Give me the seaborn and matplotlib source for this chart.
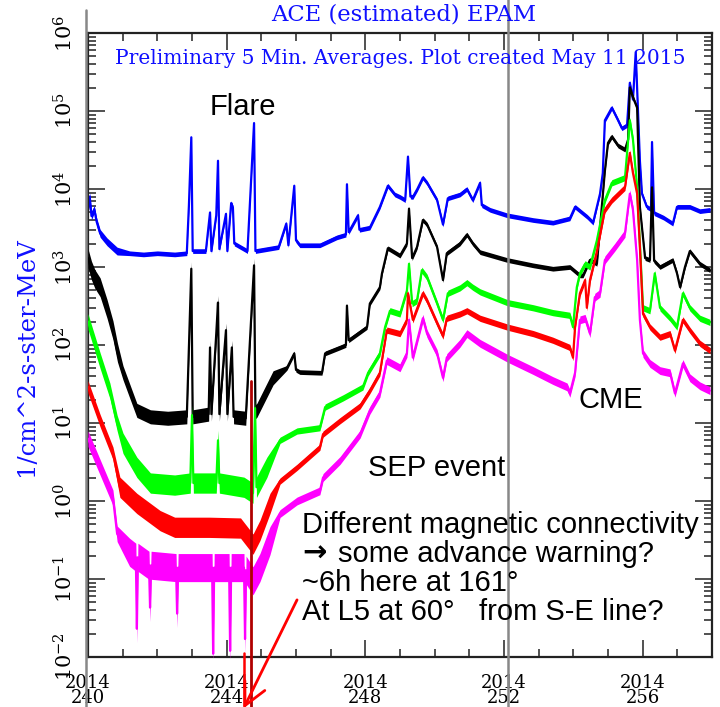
import numpy as np
import pandas as pd
import matplotlib
matplotlib.use("Agg")
import matplotlib.pyplot as plt
from matplotlib.ticker import LogLocator, MultipleLocator, NullFormatter
import seaborn as sns

# ---------------------------------------------------------------------------
# ACE EPAM 5-minute differential fluxes, day-of-year 2014 (1/cm^2-s-ster-MeV)
# ---------------------------------------------------------------------------
ch1_day = [240.00, 240.05, 240.10, 240.18, 240.25, 240.35, 240.55, 240.84,
           241.20, 241.60, 242.00, 242.50, 242.85, 242.91, 242.98, 243.02,
           243.40, 243.52, 243.56, 243.70, 243.75, 243.79, 243.98, 244.02,
           244.13, 244.18, 244.22, 244.60, 244.79, 244.83, 245.50, 245.72,
           245.78, 245.95, 246.00, 246.11, 246.69, 247.18, 247.44, 247.47,
           247.52, 247.79, 247.83, 248.13, 248.42, 248.65, 248.85, 249.00,
           249.15, 249.23, 249.30, 249.37, 249.50, 249.66, 249.78, 250.07,
           250.24, 250.38, 250.73, 250.93, 251.10, 251.31, 251.36, 251.60,
           252.09, 252.84, 253.41, 253.90, 254.05, 254.20, 254.40, 254.57,
           254.77, 254.85, 254.91, 255.11, 255.29, 255.40, 255.55, 255.63,
           255.72, 255.80, 255.92, 255.98, 256.12, 256.24, 256.27, 256.33,
           256.60, 256.87, 256.99, 257.36, 257.65, 257.94]
ch1_flux = [5.4e3, 8.0e3, 4.5e3, 5.5e3, 3.8e3, 2.7e3, 2.1e3, 1.6e3,
            1.5e3, 1.45e3, 1.5e3, 1.45e3, 1.5e3, 6.0e3, 4.6e4, 1.6e3,
            1.6e3, 5.0e3, 1.6e3, 4.6e3, 2.3e4, 1.7e3, 4.8e3, 1.6e3,
            6.6e3, 5.8e3, 2.0e3, 1.6e3, 7.0e4, 1.6e3, 1.8e3, 3.6e3,
            1.9e3, 1.1e4, 2.2e3, 1.9e3, 1.9e3, 2.4e3, 2.6e3, 1.15e4,
            2.8e3, 4.6e3, 3.0e3, 3.2e3, 5.9e3, 1.1e4, 8.5e3, 7.9e3,
            7.2e3, 2.6e4, 8.0e3, 7.9e3, 1.0e4, 1.4e4, 1.2e4, 7.2e3,
            3.5e3, 7.6e3, 8.5e3, 1.0e4, 7.2e3, 1.2e4, 6.2e3, 5.4e3,
            4.6e3, 4.0e3, 3.7e3, 4.2e3, 5.9e3, 5.2e3, 4.4e3, 3.7e3,
            8.7e3, 1.6e4, 7.6e4, 1.1e5, 7.6e4, 6.0e4, 6.6e4, 2.3e5,
            1.4e5, 5.7e5, 2.3e4, 8.7e3, 5.9e3, 5.5e3, 4.0e4, 4.9e3,
            4.3e3, 3.6e3, 5.9e3, 5.9e3, 5.2e3, 5.4e3]

ch2_day = [240.00, 240.10, 240.20, 240.35, 240.55, 240.72, 240.85, 241.01,
           241.41, 241.80, 242.30, 242.85, 242.98, 243.02, 243.48, 243.52,
           243.56, 243.70, 243.75, 243.79, 243.98, 244.02, 244.15, 244.20,
           244.55, 244.79, 244.83, 244.87, 245.34, 245.74, 245.95, 246.00,
           246.11, 246.75, 246.84, 247.27, 247.44, 247.47, 247.52, 248.05,
           248.13, 248.42, 248.48, 248.65, 249.00, 249.20, 249.26, 249.35,
           249.49, 249.66, 249.78, 250.07, 250.24, 250.35, 250.73, 250.93,
           251.10, 251.31, 252.09, 252.84, 253.41, 253.90, 254.19, 254.28,
           254.48, 254.68, 254.77, 254.91, 255.00, 255.11, 255.29, 255.49,
           255.58, 255.63, 255.72, 255.84, 255.92, 256.07, 256.21, 256.27,
           256.33, 256.50, 256.87, 256.99, 257.08, 257.22, 257.36, 257.65,
           257.94]
ch2_flux = [1.3e3, 9.0e2, 7.0e2, 5.5e2, 2.9e2, 1.55e2, 8.0e1, 4.4e1,
            1.45e1, 1.2e1, 1.15e1, 1.2e1, 9.5e2, 1.2e1, 1.3e1, 9.3e1,
            1.3e1, 1.4e2, 3.5e2, 1.3e1, 1.55e2, 1.3e1, 9.3e1, 1.2e1,
            1.15e1, 1.05e3, 1.4e1, 1.45e1, 3.8e1, 5.1e1, 7.8e1, 4.8e1,
            4.5e1, 4.4e1, 7.8e1, 9.3e1, 1.0e2, 3.2e2, 1.15e2, 1.7e2,
            3.4e2, 5.5e2, 8.3e2, 1.74e3, 1.4e3, 2.0e3, 5.6e3, 1.3e3,
            1.8e3, 4.0e3, 3.5e3, 1.8e3, 6.8e2, 1.5e3, 2.0e3, 2.6e3,
            2.0e3, 1.55e3, 1.23e3, 1.05e3, 9.5e2, 1.0e3, 7.8e2, 7.8e2,
            1.23e3, 1.1e3, 3.2e3, 1.7e4, 3.9e4, 4.7e4, 3.6e4, 3.2e4,
            4.3e4, 2.0e5, 1.5e5, 1.1e5, 5.9e3, 1.3e3, 1.23e3, 1.05e4,
            1.2e3, 1.0e3, 1.23e3, 8.3e2, 5.5e2, 1.0e3, 1.6e3, 1.1e3,
            9.1e2]

ch3_day = [240.00, 240.35, 240.63, 240.84, 241.01, 241.41, 241.80, 242.50,
           242.95, 243.00, 243.04, 243.70, 243.75, 243.79, 244.50, 244.76,
           244.82, 244.86, 245.16, 245.54, 246.03, 246.69, 246.84, 247.36,
           247.93, 248.08, 248.42, 248.57, 248.71, 249.00, 249.20, 249.26,
           249.35, 249.49, 249.63, 249.78, 250.07, 250.24, 250.38, 250.73,
           250.93, 251.10, 251.31, 252.09, 252.84, 253.41, 253.90, 253.99,
           254.10, 254.19, 254.34, 254.48, 254.68, 254.91, 255.11, 255.49,
           255.63, 255.72, 255.84, 255.92, 256.01, 256.21, 256.35, 256.50,
           256.79, 256.99, 257.16, 257.36, 257.65, 257.94]
ch3_flux = [2.0e2, 6.3e1, 2.6e1, 1.0e1, 5.5e0, 2.7e0, 1.7e0, 1.6e0,
            1.7e0, 1.26e1, 1.7e0, 1.7e0, 6.0e0, 1.7e0, 1.5e0, 1.26e0,
            1.55e1, 1.5e0, 2.7e0, 6.0e0, 7.9e0, 8.7e0, 1.6e1, 2.1e1,
            2.9e1, 4.4e1, 7.8e1, 1.7e2, 2.75e2, 2.5e2, 5.0e2, 1.1e3,
            3.4e2, 3.7e2, 9.1e2, 7.4e2, 3.4e2, 2.1e2, 4.6e2, 5.4e2,
            6.3e2, 5.5e2, 4.8e2, 3.5e2, 3.0e2, 2.6e2, 2.4e2, 1.7e2,
            5.5e2, 8.3e2, 1.1e3, 1.0e3, 2.2e3, 7.2e3, 1.2e4, 1.4e4,
            7.6e4, 4.3e4, 1.05e4, 2.0e3, 3.0e2, 2.75e2, 8.3e2, 3.0e2,
            2.2e2, 1.7e2, 4.6e2, 3.0e2, 2.2e2, 1.95e2]

ch4_day = [240.00, 240.35, 240.72, 240.92, 241.41, 242.08, 242.50, 243.50,
           244.40, 244.76, 244.96, 245.25, 245.54, 246.03, 246.69, 246.78,
           247.27, 247.85, 248.13, 248.42, 248.62, 249.00, 249.20, 249.23,
           249.37, 249.66, 249.78, 250.07, 250.24, 250.35, 250.73, 250.93,
           251.31, 252.09, 252.84, 253.41, 253.90, 253.99, 254.05, 254.19,
           254.34, 254.39, 254.48, 254.68, 254.91, 255.11, 255.49, 255.63,
           255.72, 255.84, 255.92, 256.01, 256.21, 256.50, 256.79, 256.93,
           257.16, 257.36, 257.65, 257.94]
ch4_flux = [2.9e1, 1.07e1, 4.1e0, 1.5e0, 9.3e-1, 5.6e-1, 4.6e-1, 4.6e-1,
            4.5e-1, 2.8e-1, 4.2e-1, 9.3e-1, 1.8e0, 2.7e0, 4.9e0, 7.2e0,
            1.07e1, 1.66e1, 2.6e1, 4.4e1, 1.55e2, 1.4e2, 2.1e2, 4.6e2,
            2.1e2, 4.6e2, 3.7e2, 1.9e2, 1.3e2, 2.2e2, 2.5e2, 2.75e2,
            2.2e2, 1.7e2, 1.4e2, 1.15e2, 9.3e1, 6.9e1, 1.7e2, 4.6e2,
            6.8e2, 3.0e2, 6.8e2, 1.6e3, 5.4e3, 7.2e3, 1.05e4, 2.9e4,
            1.6e4, 8.7e3, 1.8e3, 2.5e2, 1.7e2, 1.26e2, 1.4e2, 8.5e1,
            2.1e2, 1.55e2, 1.05e2, 8.5e1]

ch5_day = [240.00, 240.35, 240.72, 240.84, 241.20, 241.38, 241.41, 241.44,
           241.76, 241.79, 241.82, 242.54, 242.57, 242.60, 243.58, 243.61,
           243.64, 244.07, 244.10, 244.13, 244.50, 244.53, 244.56, 244.76,
           244.96, 245.25, 245.54, 246.03, 246.69, 246.78, 247.27, 247.85,
           248.13, 248.42, 248.62, 249.00, 249.20, 249.26, 249.37, 249.66,
           249.78, 250.07, 250.24, 250.35, 250.73, 250.93, 251.31, 252.09,
           252.84, 253.41, 253.82, 253.90, 254.05, 254.19, 254.34, 254.48,
           254.62, 254.77, 254.91, 255.20, 255.49, 255.63, 255.72, 255.84,
           255.92, 256.01, 256.21, 256.50, 256.79, 256.93, 257.16, 257.36,
           257.65, 257.94]
ch5_flux = [6.3e0, 2.7e0, 1.1e0, 3.8e-1, 2.2e-1, 1.9e-1, 2.3e-2, 1.9e-1,
            1.5e-1, 4.3e-2, 1.5e-1, 1.4e-1, 3.6e-2, 1.4e-1, 1.4e-1, 1.1e-2,
            1.4e-1, 1.4e-1, 1.2e-2, 1.4e-1, 1.4e-1, 1.7e-2, 1.3e-1, 9.5e-2,
            1.4e-1, 3.1e-1, 6.9e-1, 1.0e0, 1.35e0, 2.0e0, 3.3e0, 7.2e0,
            1.45e1, 2.4e1, 6.3e1, 5.1e1, 7.8e1, 2.1e2, 6.9e1, 2.2e2,
            1.4e2, 7.8e1, 3.8e1, 6.9e1, 1.05e2, 1.4e2, 1.05e2, 6.8e1,
            4.7e1, 3.5e1, 2.9e1, 2.4e1, 4.4e1, 2.1e2, 2.2e2, 1.4e2,
            4.1e2, 4.6e2, 1.23e3, 1.8e3, 2.7e3, 8.7e3, 5.4e3, 1.23e3,
            2.1e2, 7.8e1, 5.8e1, 4.7e1, 4.4e1, 2.4e1, 5.8e1, 3.8e1,
            3.0e1, 2.6e1]

channels = ["ch1", "ch2", "ch3", "ch4", "ch5"]
channel_days = [ch1_day, ch2_day, ch3_day, ch4_day, ch5_day]
channel_flux = [ch1_flux, ch2_flux, ch3_flux, ch4_flux, ch5_flux]
channel_colors = ["#0000ff", "#000000", "#00ff00", "#ff0000", "#ff00ff"]

# Scatter of the 5-minute samples (half-width in decades) for the early decay,
# the quiet interval, and the disturbed period
noise_early = [0.05, 0.12, 0.10, 0.08, 0.10]
noise_quiet = [0.03, 0.09, 0.13, 0.13, 0.18]
noise_active = [0.03, 0.03, 0.04, 0.04, 0.05]
early_end, quiet_end = 240.9, 245.4

x_tick_days = [240, 244, 248, 252, 256]
y_decades = list(range(-2, 7))

onset_day, onset_top = 244.70, 35.0      # connectivity onset marker
ref_day = 252.11                          # reference day marker
axis_edge_day = 239.94

# ---------------------------------------------------------------------------
frames = []
for name, d, f in zip(channels, channel_days, channel_flux):
    frames.append(pd.DataFrame({"channel": name, "day": d, "flux": f}))
df = pd.concat(frames, ignore_index=True)

sns.set_style("ticks")
plt.rcParams["font.family"] = ["DejaVu Serif", "DejaVu Sans"]
plt.rcParams["mathtext.fontset"] = "dejavuserif"
plt.rcParams["text.color"] = "black"
plt.rcParams["axes.labelcolor"] = "black"

fig = plt.figure(figsize=(7.2, 7.07), dpi=100)
fig.patch.set_facecolor("white")
ax = fig.add_axes([88 / 720, 1 - 657 / 707, (712 - 88) / 720, (657 - 33) / 707])
ax.set_facecolor("white")

for i, (name, color) in enumerate(zip(channels, channel_colors)):
    sub = df[df["channel"] == name]
    d = sub["day"].to_numpy()
    f = sub["flux"].to_numpy()
    amp = np.where(d < early_end, noise_early[i],
                   np.where(d < quiet_end, noise_quiet[i], noise_active[i]))
    ax.fill_between(d, f / 10 ** amp, f * 10 ** amp, color=color, lw=0,
                    zorder=2 + i)
    sns.lineplot(data=sub, x="day", y="flux", color=color, lw=1.6,
                 estimator=None, sort=False, legend=False, ax=ax, zorder=2 + i)

ax.set_yscale("log")
ax.set_xlim(240, 258)
ax.set_ylim(1e-2, 1e6)
ax.set_xlabel("")
ax.set_ylabel("")

ax.set_yticks([10.0 ** e for e in y_decades])
ax.set_yticklabels([f"$10^{{{e}}}$" for e in y_decades], rotation=90,
                   va="center", fontsize=15)
ax.yaxis.set_minor_locator(LogLocator(base=10, subs=np.arange(2, 10), numticks=100))
ax.yaxis.set_minor_formatter(NullFormatter())

ax.set_xticks(x_tick_days)
ax.set_xticklabels([f"2014\n{d}" for d in x_tick_days], fontsize=13)
for lab in ax.get_xticklabels():
    lab.set_linespacing(0.8)
ax.xaxis.set_minor_locator(MultipleLocator(1))

ax.tick_params(which="both", direction="in", top=True, right=True,
               color="#222222", width=1.1, labelcolor="black")
ax.tick_params(which="major", length=12)
ax.tick_params(which="minor", length=6)
ax.tick_params(axis="y", which="major", pad=8)
ax.tick_params(axis="x", which="major", pad=12)
for sp in ax.spines.values():
    sp.set_color("#222222")
    sp.set_linewidth(1.6)
    sp.set_visible(True)

# Titles and axis label
blue = "#1010ff"
fig.text(404 / 720, 1 - 15 / 707, "ACE (estimated) EPAM", ha="center",
         va="center", color=blue, fontsize=16.3)
fig.text(400 / 720, 1 - 59 / 707,
         "Preliminary 5 Min. Averages. Plot created May 11 2015",
         ha="center", va="center", color=blue, fontsize=14.5)
fig.text(27 / 720, 1 - 357 / 707, "1/cm^2-s-ster-MeV", rotation=90,
         ha="center", va="center", color=blue, fontsize=17.5)

# Marker lines
ax.plot([ref_day, ref_day], [1e-3, 1e7], color="#888888", lw=1.8,
        clip_on=False, zorder=8)
ax.plot([axis_edge_day, axis_edge_day], [1e-3, 2.0e6], color="#888888",
        lw=1.8, clip_on=False, zorder=8)
ax.plot([onset_day, onset_day], [onset_top, 1e-3], color="#b00000", lw=2,
        clip_on=False, zorder=9)

# Annotations
sans = ["Liberation Sans", "DejaVu Sans"]
fs = 21
fig.text(243 / 720, 1 - 107 / 707, "Flare", ha="center", va="center",
         fontsize=fs, family=sans, color="black")
fig.text(611 / 720, 1 - 400 / 707, "CME", ha="center", va="center",
         fontsize=fs, family=sans, color="black")
fig.text(368 / 720, 1 - 468 / 707, "SEP event", ha="left", va="center",
         fontsize=fs, family=sans, color="black")
note_lines = [(302, 525, "Different magnetic connectivity"),
              (338, 554, "some advance warning?"),
              (302, 583, "~6h here at 161\u00b0"),
              (302, 612, "At L5 at 60\u00b0   from S-E line?")]
for xpx, ypx, line in note_lines:
    fig.text(xpx / 720, 1 - ypx / 707, line, ha="left", va="center",
             fontsize=fs, family=sans, color="black", zorder=10)
fig.text(302 / 720, 1 - 554 / 707, "\u2192", ha="left", va="center",
         fontsize=fs, family=["DejaVu Sans"], fontweight="bold",
         color="black", zorder=10)

ax.annotate("", xy=(244.49, 2.2e-3), xytext=(246.03, 5.4e-2),
            arrowprops=dict(arrowstyle="->,head_length=0.8,head_width=0.4",
                            color="#ff0000", lw=2, mutation_scale=20,
                            shrinkA=0, shrinkB=0),
            annotation_clip=False, zorder=10)
ax.plot([244.49, 244.49], [1.12e-2, 1e-3], color="#ff0000", lw=1.8,
        clip_on=False, zorder=10)

fig.savefig("out.png", dpi=100)
